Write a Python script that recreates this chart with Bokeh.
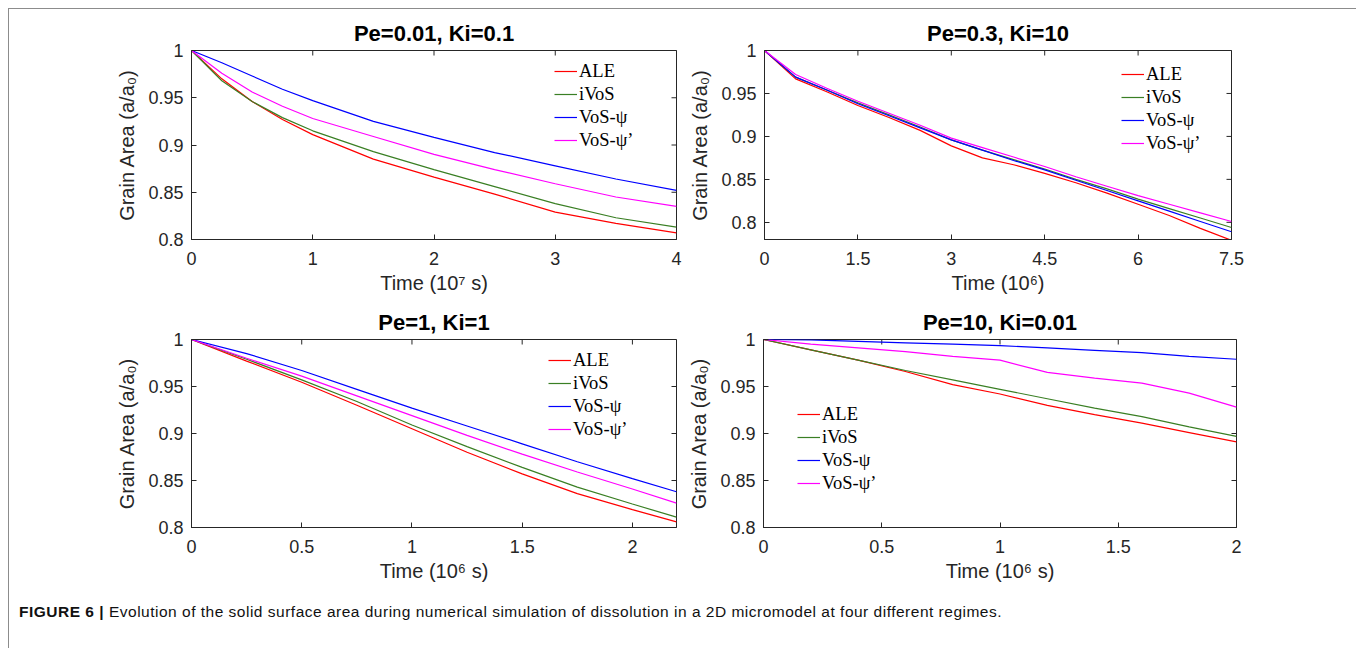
from math import pi
from bokeh.plotting import figure
from bokeh.models import (Range1d, LinearAxis, FixedTicker, CustomJSTickFormatter,
                          Legend, LegendItem, Div)
from bokeh.layouts import column, row
from bokeh.embed import file_html
from bokeh.resources import INLINE

# ---------------- data ----------------
series_names = ["ALE", "iVoS", "VoS-ψ", "VoS-ψ’"]
series_colors = ["#ff0000", "#3a7f24", "#0000ff", "#ff00ff"]

# Panel 1: Pe=0.01, Ki=0.1  (time in 1e7 s)
t1 = [0, 0.25, 0.5, 0.75, 1.0, 1.5, 2.0, 2.5, 3.0, 3.5, 4.0]
ale1 = [1.0, 0.970, 0.946, 0.927, 0.911, 0.885, 0.866, 0.848, 0.829, 0.817, 0.807]
ivos1 = [1.0, 0.968, 0.946, 0.929, 0.915, 0.893, 0.874, 0.856, 0.838, 0.823, 0.813]
vos1 = [1.0, 0.987, 0.973, 0.959, 0.947, 0.925, 0.908, 0.892, 0.878, 0.864, 0.852]
vosp1 = [1.0, 0.976, 0.956, 0.941, 0.928, 0.909, 0.890, 0.874, 0.859, 0.845, 0.835]

# Panel 2: Pe=0.3, Ki=10  (time in 1e6)
t2 = [0, 0.5, 1.0, 1.5, 2.0, 2.5, 3.0, 3.5, 4.0, 4.5, 5.0, 5.5, 6.0, 6.5, 7.0, 7.5]
ale2 = [1.0, 0.967, 0.952, 0.936, 0.922, 0.907, 0.889, 0.875, 0.867, 0.857, 0.846, 0.834, 0.821, 0.808, 0.793, 0.779]
ivos2 = [1.0, 0.969, 0.954, 0.939, 0.925, 0.911, 0.896, 0.884, 0.873, 0.862, 0.850, 0.839, 0.827, 0.816, 0.805, 0.794]
vos2 = [1.0, 0.969, 0.954, 0.938, 0.924, 0.910, 0.896, 0.884, 0.872, 0.861, 0.849, 0.837, 0.825, 0.813, 0.801, 0.789]
vosp2 = [1.0, 0.972, 0.956, 0.941, 0.927, 0.913, 0.898, 0.887, 0.876, 0.865, 0.853, 0.842, 0.831, 0.821, 0.811, 0.801]

# Panel 3: Pe=1, Ki=1  (time in 1e6 s)
t3 = [0, 0.25, 0.5, 0.75, 1.0, 1.25, 1.5, 1.75, 2.0, 2.2]
ale3 = [1.0, 0.977, 0.9545, 0.930, 0.905, 0.880, 0.857, 0.836, 0.819, 0.806]
ivos3 = [1.0, 0.979, 0.957, 0.934, 0.909, 0.886, 0.864, 0.843, 0.825, 0.811]
vos3 = [1.0, 0.985, 0.967, 0.947, 0.927, 0.908, 0.889, 0.870, 0.852, 0.838]
vosp3 = [1.0, 0.980, 0.961, 0.940, 0.919, 0.898, 0.878, 0.859, 0.841, 0.826]

# Panel 4: Pe=10, Ki=0.01  (time in 1e6 s)
t4 = [0, 0.2, 0.4, 0.6, 0.8, 1.0, 1.2, 1.4, 1.6, 1.8, 2.0]
ale4 = [1.0, 0.989, 0.978, 0.966, 0.952, 0.942, 0.930, 0.920, 0.911, 0.901, 0.891]
ivos4 = [1.0, 0.989, 0.978, 0.967, 0.957, 0.947, 0.937, 0.927, 0.918, 0.907, 0.897]
vos4 = [1.0, 0.9995, 0.998, 0.9965, 0.995, 0.9935, 0.991, 0.9885, 0.986, 0.982, 0.979]
vosp4 = [1.0, 0.995, 0.991, 0.987, 0.982, 0.978, 0.965, 0.959, 0.9535, 0.943, 0.928]

titles = ["Pe=0.01, Ki=0.1", "Pe=0.3, Ki=10", "Pe=1, Ki=1", "Pe=10, Ki=0.01"]
x_labels = ["Time (10⁷ s)", "Time (10⁶)", "Time (10⁶ s)", "Time (10⁶ s)"]
y_label = "Grain Area (a/a₀)"
x_ends = [4.0, 7.5, 2.2, 2.0]
y_starts = [0.8, 0.78, 0.8, 0.8]
y_end = 1.0
x_ticks = [[0, 1, 2, 3, 4], [0, 1.5, 3, 4.5, 6, 7.5], [0, 0.5, 1, 1.5, 2], [0, 0.5, 1, 1.5, 2]]
y_ticks = [0.8, 0.85, 0.9, 0.95, 1.0]
caption_bold = "FIGURE 6 |"
caption_text = ("Evolution of the solid surface area during numerical simulation of dissolution "
                "in a 2D micromodel at four different regimes.")

AX = "#262626"
SANS = "Liberation Sans"


def fmt():
    return CustomJSTickFormatter(code="return String(Math.round(tick*1000)/1000);")


def make_axis(ticks, **kw):
    return LinearAxis(ticker=FixedTicker(ticks=ticks), formatter=fmt(),
                      major_tick_in=5, major_tick_out=0, minor_tick_line_color=None,
                      axis_line_color=AX, major_tick_line_color=AX,
                      major_label_text_color=AX, major_label_text_font=SANS,
                      major_label_text_font_size="18px",
                      axis_label_text_font=SANS, axis_label_text_font_size="20px",
                      axis_label_text_font_style="normal", axis_label_text_color=AX, **kw)


def panel(i, t, ys, geom, leg_xy):
    width, height, bl, br, bt, bb = geom
    p = figure(width=width, height=height, output_backend="svg", toolbar_location=None,
               x_range=Range1d(0, x_ends[i]), y_range=Range1d(y_starts[i], y_end),
               x_axis_location=None, y_axis_location=None,
               min_border_left=bl, min_border_right=br, min_border_top=bt, min_border_bottom=bb,
               title=titles[i])
    p.grid.visible = False
    p.outline_line_color = AX
    p.background_fill_color = "white"
    p.border_fill_color = "white"
    p.title.text_font = SANS
    p.title.text_font_size = "22px"
    p.title.text_font_style = "bold"
    p.title.text_color = "black"
    p.title.align = "center"
    p.title.standoff = 10

    p.add_layout(make_axis(x_ticks[i], axis_label=x_labels[i], major_label_standoff=12,
                           axis_label_standoff=4), "below")
    p.add_layout(make_axis(y_ticks, axis_label=y_label, major_label_standoff=8,
                           axis_label_standoff=7), "left")

    # mirrored inward ticks on the top and right edges of the box (clipped to frame)
    p.scatter(x_ticks[i], [y_end] * len(x_ticks[i]), marker="dash", size=10, angle=pi / 2,
              line_color=AX, line_width=1)
    p.scatter([x_ends[i]] * len(y_ticks), y_ticks, marker="dash", size=10,
              line_color=AX, line_width=1)

    items = []
    for name, color, y in zip(series_names, series_colors, ys):
        r = p.line(t, y, line_color=color, line_width=1.2)
        items.append(LegendItem(label=name, renderers=[r]))
    leg = Legend(items=items, location=leg_xy, label_text_font="Liberation Serif",
                 label_text_font_size="18.5px", label_text_color="black",
                 glyph_width=23, glyph_height=22, label_height=22, spacing=1,
                 padding=0, margin=0, label_standoff=2,
                 border_line_color=None, background_fill_alpha=0)
    p.add_layout(leg)
    return p


pA = panel(0, t1, [ale1, ivos1, vos1, vosp1], (675, 293, 182, 8, 40, 63), (363, 88))
pB = panel(1, t2, [ale2, ivos2, vos2, vosp2], (668, 293, 80, 121, 41, 63), (357, 85))
pC = panel(2, t3, [ale3, ivos3, vos3, vosp3], (675, 288, 182, 8, 33, 63), (357, 87))
pD = panel(3, t4, [ale4, ivos4, vos4, vosp4], (668, 288, 79, 116, 33, 63), (34, 33))

cap = Div(text=('<div style="padding:6px 0 0 5px; font-family:\'Liberation Sans\'; '
                'font-size:15.5px; letter-spacing:0.5px; color:#111; white-space:nowrap;">'
                '<b>' + caption_bold + '</b> ' + caption_text + '</div>'),
          width=1343, height=48)

layout = column(row(pA, pB), row(pC, pD), cap,
                styles={"margin-left": "8px", "margin-top": "8px",
                        "border-top": "1px solid #8c8c8c", "border-left": "1px solid #8c8c8c",
                        "border-right": "1px solid #8c8c8c"})

open("out.html", "w").write(file_html(layout, INLINE))
